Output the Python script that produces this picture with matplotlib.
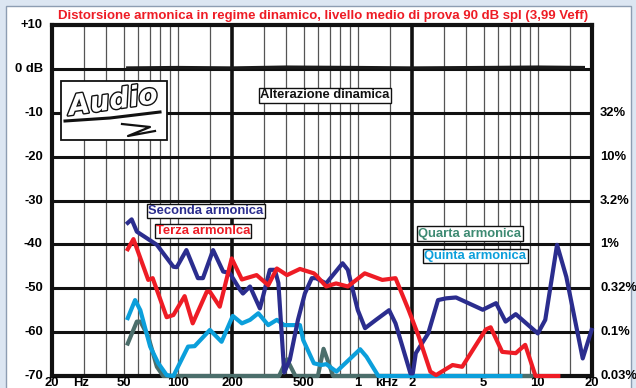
#!/usr/bin/env python
import matplotlib
matplotlib.use('Agg')
import matplotlib.pyplot as plt
import matplotlib.patches as patches
import matplotlib.patheffects as pe

plt.rcParams['font.family'] = ['Liberation Sans', 'DejaVu Sans']
plt.rcParams['font.weight'] = 'bold'

TITLE = 'Distorsione armonica in regime dinamico, livello medio di prova 90 dB spl (3,99 Veff)'

# harmonic levels, dB relative to the fundamental
seconda_freq = [52.7, 55.4, 59.2, 76.5, 94.5, 98.6, 111.6, 129.3, 137.9, 157, 178.6, 194, 222, 230,
                251.8, 285.8, 324.6, 346, 362, 390, 419, 465, 508, 555, 585, 667, 823, 880, 943,
                1000, 1097, 1262, 1492, 1620, 1960, 2020, 2100, 2460, 2790, 3090, 3512, 4944,
                5860, 6620, 7540, 10000, 11000, 12790, 14400, 17760, 19900]
seconda_db = [-35.1, -34.3, -37.1, -40.1, -45.1, -45.2, -41.3, -47.7, -47.7, -41.3, -46.2, -46.5, -50.4, -51.2,
              -49.6, -54.6, -45.8, -45.8, -48.8, -69.2, -66.3, -57.2, -51.2, -47.7, -47.7, -48.9, -44.3, -45.8, -50.8,
              -55.0, -59.1, -57.2, -55.0, -58.0, -69.4, -69.4, -64.8, -60.3, -52.7, -52.3, -52.1, -54.9,
              -53.4, -57.6, -55.9, -60.3, -57.2, -40.1, -47.4, -66.0, -59.5]

terza_freq = [52.7, 56.7, 68.5, 72.5, 86.7, 94.5, 109.1, 121, 144.8, 150.8, 171, 199.2, 227, 274,
              318, 355, 404, 477, 570, 585, 667, 757, 880, 1092, 1368, 1620, 1917, 2180, 2530,
              2720, 3360, 3800, 5140, 5470, 6340, 7540, 8510, 9710, 13000]
terza_db = [-41.1, -38.8, -48.1, -47.7, -56.6, -56.1, -51.8, -58.0, -50.8, -50.8, -54.2, -43.2, -48.0, -47.0,
            -49.3, -45.5, -47.0, -45.6, -46.6, -47.0, -49.6, -48.9, -49.6, -46.6, -48.1, -47.7, -55.0, -61.0, -69.0,
            -69.8, -67.5, -67.9, -59.4, -58.9, -64.5, -64.8, -62.9, -70.0, -70.0]

quarta_freq = [52.7, 59.2, 62, 68.5, 76.5, 83, 365, 404, 450, 600, 645, 730, 10000]
quarta_db = [-62.6, -57.6, -57.6, -61.0, -67.9, -70.0, -70.0, -66.2, -70.0, -70.0, -63.8, -70.0, -70.0]

quinta_freq = [52.7, 57.9, 61.9, 70.2, 77.9, 86.7, 94.5, 114, 124, 150.8, 175, 202, 227, 252, 280,
               318, 355, 390, 477, 497, 570, 626, 668, 761, 1030, 1117, 1300, 8000]
quinta_db = [-56.8, -52.7, -55.0, -63.3, -67.1, -69.8, -70.0, -63.3, -63.2, -59.5, -62.2, -56.3, -58.0, -57.2, -55.7,
             -58.4, -57.2, -58.4, -58.4, -61.8, -67.1, -67.5, -67.3, -69.0, -63.9, -65.6, -70.0, -70.0]

# dynamic alteration of the fundamental
alter_freq = [52.7, 100, 200, 400, 1000, 2000, 5000, 10000, 17900]
alter_db = [0.2, 0.3, 0.2, 0.4, 0.3, 0.2, 0.3, 0.4, 0.3]

grid_freqs = [30, 40, 50, 60, 70, 80, 90, 100, 150, 200, 300, 400, 500, 600, 700, 800, 900,
              1000, 1500, 2000, 3000, 4000, 5000, 6000, 7000, 8000, 9000, 10000, 15000]
thick_freqs = [200, 2000]
db_levels = [10, 0, -10, -20, -30, -40, -50, -60, -70]
left_labels = ['+10', '0 dB', '-10', '-20', '-30', '-40', '-50', '-60', '-70']
pct_levels = [-10, -20, -30, -40, -50, -60, -70]
pct_labels = ['32%', '10%', '3.2%', '1%', '0.32%', '0.1%', '0.03%']
x_label_pos = [20, 29, 50, 100, 200, 500, 1000, 1440, 2000, 5000, 10000, 20000]
x_labels = ['20', 'Hz', '50', '100', '200', '500', '1', 'kHz', '2', '5', '10', '20']

NAVY = '#2b2d8e'
RED = '#ee1c25'
CYAN = '#0b9fdb'
GREY = '#4b6e6b'
FS = 9.4

W, H = 636, 388
fig = plt.figure(figsize=(W / 100.0, H / 100.0), dpi=100)
fig.patch.set_facecolor('#dce6f2')
fig.patches.append(patches.Rectangle((6.0 / W, -0.01), 625.0 / W, 1 - 6.0 / H + 0.01,
                                     transform=fig.transFigure, fc='white', ec='#8d9db2', lw=1.0, zorder=-5))

ax = fig.add_axes([52.0 / W, 12.0 / H, 540.0 / W, 351.0 / H])
ax.set_facecolor('none')
ax.set_xscale('log')
ax.set_xlim(20, 20000)
ax.set_ylim(-70, 10)
ax.set_xticks([])
ax.set_yticks([])
ax.xaxis.set_minor_locator(matplotlib.ticker.NullLocator())
for s in ax.spines.values():
    s.set_linewidth(3.0)
    s.set_color('#111111')

for f in grid_freqs:
    if f in thick_freqs:
        ax.axvline(f, color='#111111', lw=2.6, zorder=1)
    else:
        ax.axvline(f, color='#555555', lw=0.9, zorder=1)
for d in db_levels[1:-1]:
    ax.axhline(d, color='#111111', lw=2.2, zorder=1)

ax.plot(alter_freq, alter_db, color='#1a1a1a', lw=2.4, zorder=2)

ax.plot(quarta_freq, quarta_db, color=GREY, lw=3.0, clip_on=False, zorder=3)
ax.plot(quinta_freq, quinta_db, color=CYAN, lw=3.0, clip_on=False, zorder=4)
ax.plot(seconda_freq, seconda_db, color=NAVY, lw=3.0, clip_on=False, zorder=5)
ax.plot(terza_freq, terza_db, color=RED, lw=3.0, clip_on=False, zorder=6)

ytr = ax.get_yaxis_transform()
for d, lab in zip(db_levels, left_labels):
    ax.text(-0.017, d, lab, transform=ytr, ha='right', va='center', fontsize=FS, fontweight='bold')
for d, lab in zip(pct_levels, pct_labels):
    ax.text(1.015, d, lab, transform=ytr, ha='left', va='center', fontsize=FS, fontweight='bold')

# frequency labels sit right under the frame, baseline at the bottom edge
for f, lab in zip(x_label_pos, x_labels):
    ax.annotate(lab, xy=(f, 0), xycoords=('data', 'figure fraction'), xytext=(0, 1.5),
                textcoords='offset pixels', ha='center', va='baseline', fontsize=FS, fontweight='bold')

fig.text(323.5 / W, 1 - 15.5 / H, TITLE, color=RED, ha='center', va='center',
         fontsize=9.5, fontweight='bold')

def label_box(x, y, text, color):
    fig.text(x / W, 1 - y / H, text, color=color, ha='center', va='center', fontsize=FS,
             fontweight='bold', zorder=10,
             bbox=dict(boxstyle='square,pad=0.1', fc='white', ec='#111111', lw=1.0))

label_box(325, 95.5, 'Alterazione dinamica', '#111111')
label_box(206, 211, 'Seconda armonica', NAVY)
label_box(203, 231, 'Terza armonIca', RED)
label_box(470, 233.5, 'Quarta armonica', '#3d8a72')
label_box(475.5, 256, 'Quinta armonica', CYAN)

# logo panel
fig.patches.append(patches.Rectangle((60.7 / W, 1 - 140.0 / H), 106.0 / W, 59.3 / H,
                                     transform=fig.transFigure, fc='white', ec='#111111', lw=1.3, zorder=8))
fig.text(113.0 / W, 1 - 101.0 / H, 'Audio', color='white', ha='center', va='center', fontsize=20,
         fontstyle='italic', fontweight='bold', rotation=8, zorder=9, family='DejaVu Sans',
         path_effects=[pe.Stroke(linewidth=2.0, foreground='#111111'), pe.Normal()])
fig.lines.append(plt.Line2D([65.0 / W, 110.0 / W, 160.0 / W],
                            [1 - 121.0 / H, 1 - 118.0 / H, 1 - 112.0 / H],
                            transform=fig.transFigure, color='#111111', lw=2.2, zorder=9))
fig.lines.append(plt.Line2D([122.0 / W, 150.0 / W, 128.0 / W, 155.0 / W],
                            [1 - 124.0 / H, 1 - 127.0 / H, 1 - 136.0 / H, 1 - 131.0 / H],
                            transform=fig.transFigure, color='#111111', lw=1.6, zorder=9))

fig.savefig('out.png', dpi=100, facecolor=fig.get_facecolor())
